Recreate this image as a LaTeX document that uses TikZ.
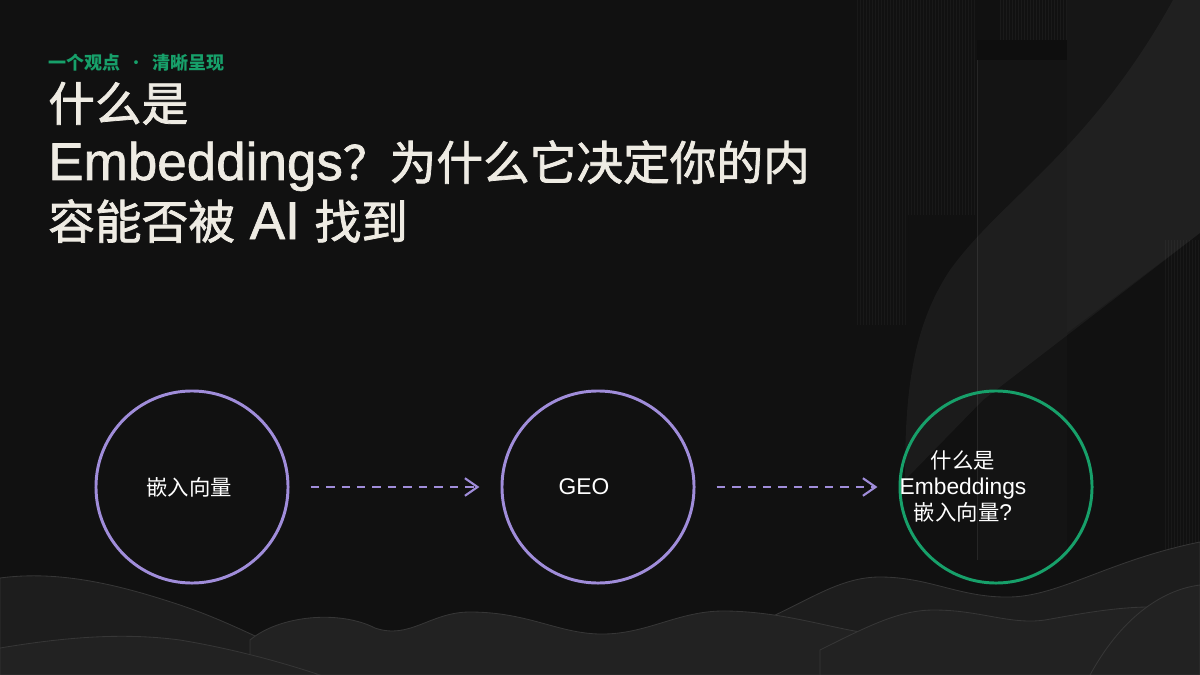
\documentclass[tikz,border=0pt]{standalone}
\usepackage{fontspec}
\setmainfont{Noto Sans CJK SC}
\newfontfamily\titlecjk[FakeBold=1.6]{Noto Sans CJK SC}
\newfontfamily\latfont{Liberation Sans}
\newfontfamily\latbold[FakeBold=1.2]{Liberation Sans}
\usetikzlibrary{arrows.meta}
\definecolor{bg}{HTML}{111111}
\definecolor{lav}{HTML}{A08DDA}
\definecolor{grn}{HTML}{17A06A}
\definecolor{ink}{HTML}{EEEBE3}
\definecolor{hillA}{HTML}{1D1D1D}
\definecolor{hillB}{HTML}{222222}
\definecolor{hillEdge}{HTML}{363636}
\newcommand\latT[1]{{\fontsize{37.7pt}{42pt}\selectfont\latbold #1}}
\newcommand\latR[1]{{\fontsize{16.2pt}{18.5pt}\selectfont\latfont #1}}
\begin{document}
\begin{tikzpicture}[x=0.025cm,y=-0.025cm,
  titletext/.style={anchor=base west, inner sep=0, text=ink, font=\fontsize{33.2pt}{42pt}\selectfont\titlecjk},
  kicker/.style={anchor=base west, inner sep=0, text=grn, font=\fontsize{12.8pt}{15pt}\selectfont\bfseries},
  ring/.style={circle, draw=#1, line width=2.1pt, minimum size=4.8cm, inner sep=0},
  ringtext/.style={text=white, inner sep=0, align=center, font=\fontsize{15.2pt}{18.5pt}\selectfont},
  flow/.style={draw=lav, line width=1.5pt, dash pattern=on 6pt off 5pt, -{Straight Barb[length=9pt,width=12.5pt,line width=1.5pt]}, shorten <=15pt, shorten >=15pt},
  hill/.style={fill=#1, draw=hillEdge, line width=0.6pt}
]
% background
\fill[bg] (0,0) rectangle (1200,675);
\useasboundingbox (0,0) rectangle (1200,675);

% top-right decorations
\fill[white, opacity=0.025] (1067,0) -- (1200,0) -- (1200,233) -- (1067,333) -- cycle;
\foreach \x in {857,860,...,975} \draw[white, opacity=0.035, line width=0.4pt] (\x,0) -- (\x,215);
\foreach \x in {857,860,...,905} \draw[white, opacity=0.035, line width=0.4pt] (\x,215) -- (\x,325);
\foreach \x in {1000,1003,...,1066} \draw[white, opacity=0.04, line width=0.4pt] (\x,0) -- (\x,40);
\fill[black, opacity=0.15] (977,40) rectangle (1067,60);
\fill[white, opacity=0.015] (977,60) rectangle (1067,560);
\draw[white, opacity=0.08, line width=0.6pt] (977,60) -- (977,560);
\foreach \x in {1165,1168,...,1199} \draw[white, opacity=0.035, line width=0.4pt] (\x,240) -- (\x,560);
\fill[white, opacity=0.045] (1173,0) .. controls (1090,150) and (1000,200) .. (950,270)
   .. controls (910,330) and (905,400) .. (905,480) -- (983,400) -- (1200,233) -- (1200,0) -- cycle;

% bottom hills
\fill[hill=hillA] (0,578) .. controls (60,570) and (120,585) .. (180,605) .. controls (240,625) and (300,660) .. (340,675) -- (0,675) -- cycle;
\fill[hill=hillA] (760,622) .. controls (810,600) and (840,577) .. (880,577) .. controls (930,577) and (960,598) .. (1010,597) .. controls (1060,596) and (1110,560) .. (1200,542) -- (1200,675) -- (760,675) -- cycle;
\fill[hill=hillB] (250,640) .. controls (280,615) and (340,610) .. (375,628) .. controls (410,640) and (430,612) .. (470,612) .. controls (530,612) and (560,635) .. (605,634) .. controls (650,633) and (680,610) .. (727,611) .. controls (780,612) and (820,625) .. (860,632) -- (860,675) -- (250,675) -- cycle;
\fill[hill=hillB] (820,650) .. controls (870,625) and (900,610) .. (934,610) .. controls (980,610) and (1010,625) .. (1045,620) .. controls (1090,612) and (1150,600) .. (1200,612) -- (1200,675) -- (820,675) -- cycle;
\fill[hill=hillB] (0,648) .. controls (60,638) and (120,632) .. (180,640) .. controls (240,650) and (290,665) .. (320,675) -- (0,675) -- cycle;
\fill[hill=hillB] (1090,675) .. controls (1120,620) and (1160,590) .. (1200,585) -- (1200,675) -- cycle;

% kicker and title
\node[kicker] (kick) at (48,70) {一个观点\hspace{5pt}{\mdseries ·}\hspace{5pt}清晰呈现};
\node[titletext] (t1) at (48,121) {什么是};
\node[titletext] (t2) at (48,180) {\latT{Embeddings}？为什么它决定你的内};
\node[titletext] (t3) at (48,239) {容能否被\latT{ AI }找到};

% circles
\node[ring=lav] (c1) at (192,487) {};
\node[ring=lav] (c2) at (598,487) {};
\node[ring=grn] (c3) at (996,487) {};

\node[ringtext] (l1) at (189,487) {嵌入向量};
\node[ringtext] (l2) at (584,487) {\latR{GEO}};
\node[ringtext] (l3) at (963,486) {什么是\\\latR{Embeddings}\\嵌入向量\latR{?}};

% connectors
\draw[flow] (c1) -- (c2);
\draw[flow] (c2) -- (c3);
\end{tikzpicture}
\end{document}
